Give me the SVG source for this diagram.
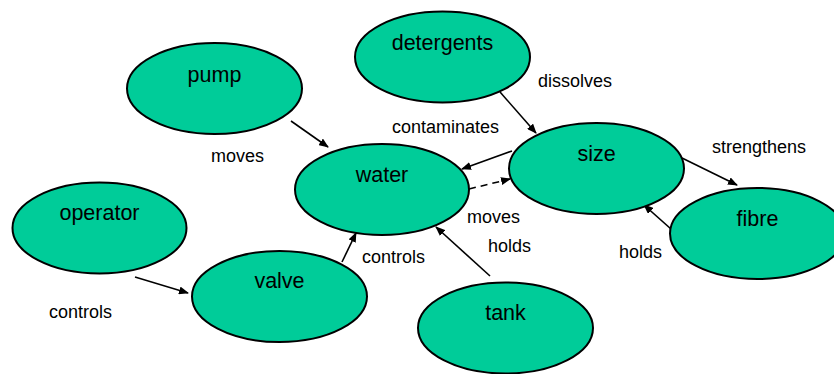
<svg xmlns="http://www.w3.org/2000/svg" width="834" height="374" viewBox="0 0 834 374">
<defs>
<style>
.node ellipse{fill:#00CC99;stroke:#000;stroke-width:2}
.node text{font-family:"Liberation Sans",Arial,sans-serif;font-size:21.5px;fill:#000;text-anchor:middle}
.lbl{font-family:"Liberation Sans",Arial,sans-serif;font-size:18px;fill:#000}
.conn line{stroke:#000;stroke-width:1.6;fill:none;marker-end:url(#ah)}
.dash{stroke-dasharray:7,5}
</style>
<marker id="ah" markerWidth="10" markerHeight="8" refX="9" refY="4" orient="auto" markerUnits="userSpaceOnUse">
<path d="M0,0 L10,4 L0,8 Z" fill="#000"/>
</marker>
</defs>
<rect width="834" height="374" fill="#fff"/>
<g id="connectors" class="conn">
<line x1="291" y1="121" x2="328" y2="147"/>
<line x1="500" y1="92" x2="536" y2="133"/>
<line x1="512" y1="151" x2="462" y2="169"/>
<line class="dash" x1="469" y1="189" x2="510" y2="179"/>
<line x1="682" y1="158" x2="737" y2="185"/>
<line x1="671" y1="229" x2="644" y2="205"/>
<line x1="490" y1="276" x2="436" y2="227"/>
<line x1="342" y1="262" x2="356" y2="233"/>
<line x1="135" y1="277" x2="188" y2="293"/>
</g>
<g id="labels">
<text class="lbl" x="211" y="162">moves</text>
<text class="lbl" x="392" y="133">contaminates</text>
<text class="lbl" x="538" y="87">dissolves</text>
<text class="lbl" x="712" y="153">strengthens</text>
<text class="lbl" x="467" y="223">moves</text>
<text class="lbl" x="488" y="252">holds</text>
<text class="lbl" x="362" y="263">controls</text>
<text class="lbl" x="619" y="258">holds</text>
<text class="lbl" x="49" y="318">controls</text>
</g>
<g id="pump" class="node"><ellipse cx="214.5" cy="88.5" rx="87.5" ry="45.5"/><text x="214.5" y="82">pump</text></g>
<g id="detergents" class="node"><ellipse cx="442.5" cy="57" rx="87.5" ry="45.5"/><text x="442.5" y="50">detergents</text></g>
<g id="water" class="node"><ellipse cx="382" cy="189.5" rx="87" ry="45.5"/><text x="382" y="182">water</text></g>
<g id="size" class="node"><ellipse cx="596.5" cy="168.5" rx="87.5" ry="45.5"/><text x="596.5" y="161">size</text></g>
<g id="fibre" class="node"><ellipse cx="757.5" cy="233.5" rx="87.5" ry="45.5"/><text x="757.5" y="226">fibre</text></g>
<g id="operator" class="node"><ellipse cx="99.5" cy="228" rx="87" ry="45.5"/><text x="99.5" y="220">operator</text></g>
<g id="valve" class="node"><ellipse cx="279.5" cy="296.5" rx="87.5" ry="45.5"/><text x="279.5" y="288">valve</text></g>
<g id="tank" class="node"><ellipse cx="505.5" cy="328" rx="87.5" ry="45.5"/><text x="505.5" y="320">tank</text></g>
</svg>
